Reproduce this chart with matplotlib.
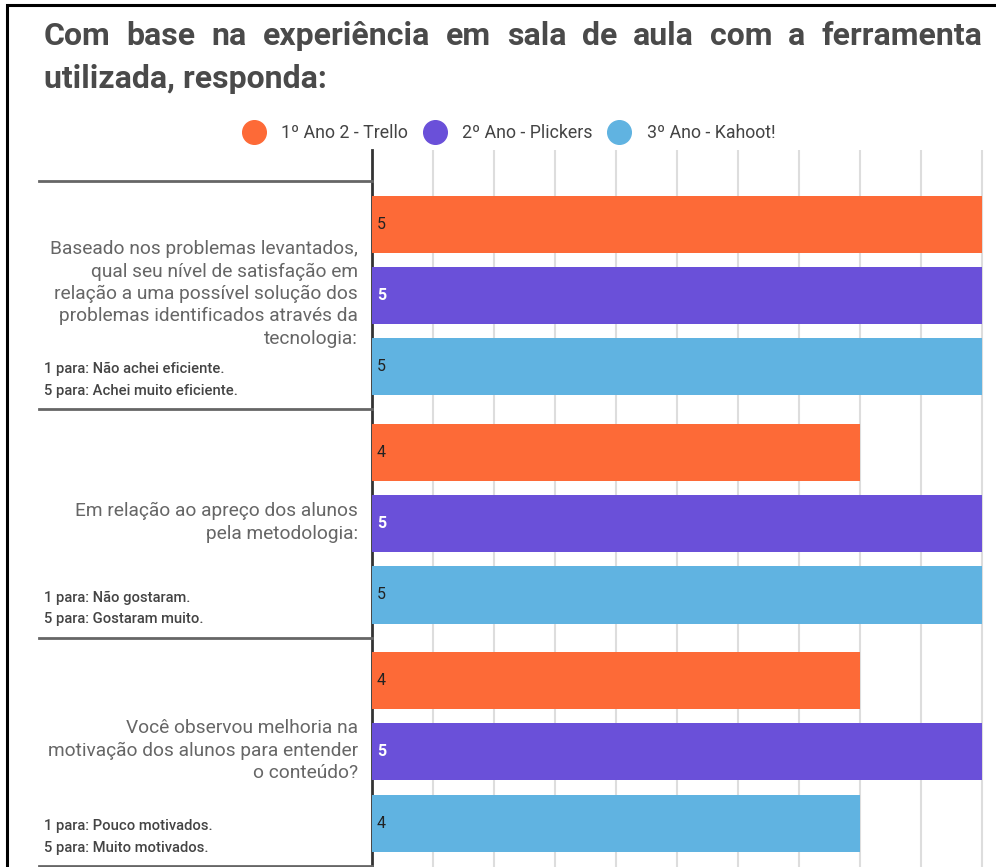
import matplotlib
matplotlib.use("Agg")
import matplotlib.pyplot as plt
import matplotlib.transforms as mtransforms
from matplotlib.lines import Line2D
from matplotlib.patches import Rectangle
import numpy as np

plt.rcParams['font.family'] = ['Roboto', 'DejaVu Sans']

# ---------------- data ----------------
title_line1 = "Com base na experiência em sala de aula com a ferramenta"
title_line2 = "utilizada, responda:"
series_names = ["1º Ano 2 - Trello", "2º Ano - Plickers", "3º Ano - Kahoot!"]
series_colors = ["#FD6A37", "#6A50D9", "#60B3E1"]
questions = [
    "Baseado nos problemas levantados,\nqual seu nível de satisfação em\nrelação a uma possível solução dos\nproblemas identificados através da\ntecnologia:",
    "Em relação ao apreço dos alunos\npela metodologia:",
    "Você observou melhoria na\nmotivação dos alunos para entender\no conteúdo?",
]
notes = [
    ("1 para: Não achei eficiente.", "5 para: Achei muito eficiente."),
    ("1 para: Não gostaram.", "5 para: Gostaram muito."),
    ("1 para: Pouco motivados.", "5 para: Muito motivados."),
]
trello = [5, 4, 4]
plickers = [5, 5, 5]
kahoot = [5, 5, 4]
values = [trello, plickers, kahoot]
label_colors = ["#222222", "#FFFFFF", "#222222"]
label_weights = ["normal", "bold", "normal"]

# ---------------- figure ----------------
W, H = 996, 867
fig = plt.figure(figsize=(W / 100, H / 100), dpi=100)
fig.patch.set_facecolor("white")

# frame border (image is cropped on the right and bottom)
fig.add_artist(Rectangle((7 / W, -0.05), 1.2, 1 - 5 / H + 0.05, transform=fig.transFigure,
                         fill=False, edgecolor="black", linewidth=2.2))

ax_left, ax_top = 372, 150
ax = fig.add_axes([ax_left / W, 0, 1 - ax_left / W, 1 - ax_top / H])
px_per_unit_x = 122.0
px_per_unit_y = 228.5
ax.set_xlim(0, (W - ax_left) / px_per_unit_x)
ax.set_ylim(2.5 + 1 / px_per_unit_y, -0.5 - 31 / px_per_unit_y)

y = np.arange(len(questions))
bar_h = 0.25
offsets = [-0.311, 0.0, 0.313]
for s, (vals, col) in enumerate(zip(values, series_colors)):
    ypos = y + offsets[s]
    ax.barh(ypos, vals, height=bar_h, color=col, zorder=3)
    for yy, v in zip(ypos, vals):
        ax.text(0.04, yy, f"{v}", color=label_colors[s], fontweight=label_weights[s],
                fontsize=11.5, ha="left", va="center", zorder=4)

# gridlines
ax.set_xticks(np.arange(0.5, 5.01, 0.5))
ax.grid(axis="x", color="#DDDDDD", linewidth=1.5, zorder=0)
ax.set_yticks([])
ax.tick_params(axis="x", length=0, labelbottom=False)
for sp in ["top", "right", "bottom"]:
    ax.spines[sp].set_visible(False)
ax.spines["left"].set_color("#333333")
ax.spines["left"].set_linewidth(2)

# category separators on the left
trans = mtransforms.blended_transform_factory(ax.transAxes, ax.transData)
sep_x0 = (39 - ax_left) / (W - ax_left)
for b in np.arange(-0.5, len(questions), 1.0):
    ax.plot([sep_x0, 0], [b, b], transform=trans, color="#666666", linewidth=2,
            clip_on=False, zorder=5)

# category labels
lab_x = (358 - ax_left) / (W - ax_left)
note_x = (44 - ax_left) / (W - ax_left)
for i, q in enumerate(questions):
    ax.text(lab_x, i - 0.005, q, transform=trans, ha="right", va="center",
            fontsize=13.8, color="#666666", linespacing=1.3, clip_on=False)
    n1, n2 = notes[i]
    ax.text(note_x, i + 0.325, n1, transform=trans, ha="left", va="center",
            fontsize=10.6, color="#444444", fontweight="medium", clip_on=False)
    ax.text(note_x, i + 0.42, n2, transform=trans, ha="left", va="center",
            fontsize=10.6, color="#444444", fontweight="medium", clip_on=False)

# legend
handles = [Line2D([], [], marker="o", linestyle="none", markersize=17,
                  markerfacecolor=c, markeredgecolor=c) for c in series_colors]
fig.legend(handles, series_names, loc="center", bbox_to_anchor=(510 / W, 1 - 133 / H),
           ncol=3, frameon=False, fontsize=12.8, handlelength=1.0, handletextpad=1.05,
           columnspacing=1.0, labelcolor="#444444")

# title (first line justified between x=44 and x=982)
title_kw = dict(fontsize=23, fontweight="bold", color="#4A4A4A", va="baseline")
fig.canvas.draw()
renderer = fig.canvas.get_renderer()
words = title_line1.split(" ")
arts = [fig.text(0, 1 - 45 / H, w_, ha="left", **title_kw) for w_ in words]
widths = [a.get_window_extent(renderer).width for a in arts]
x0, x1 = 44, 982
gap = (x1 - x0 - sum(widths)) / (len(words) - 1)
xx = x0
for a, wd in zip(arts, widths):
    a.set_x(xx / W)
    xx += wd + gap
fig.text(44 / W, 1 - 88 / H, title_line2, ha="left", **title_kw)

fig.savefig("out.png", dpi=100)
